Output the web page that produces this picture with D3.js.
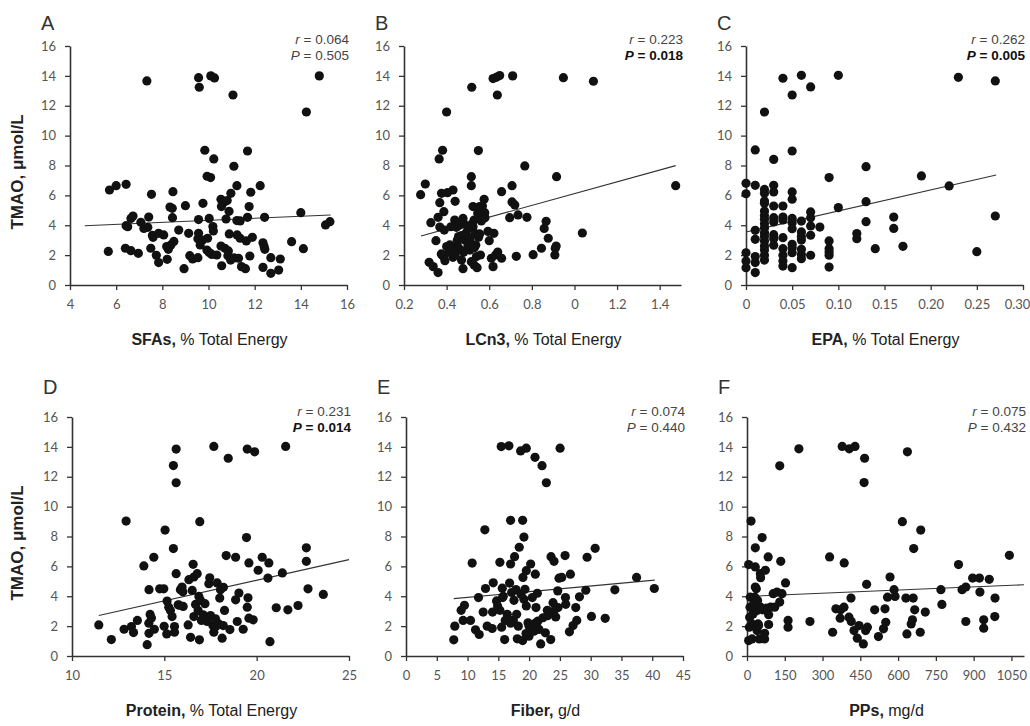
<!DOCTYPE html>
<html>
<head>
<meta charset="utf-8">
<script src="https://cdn.jsdelivr.net/npm/d3@7"></script>
<style>
  html, body { margin: 0; background: #fff; }
  .tick text { font-family: Lato, "Open Sans", sans-serif; font-size: 13px; fill: #555; }
  .domain { stroke: #333; stroke-width: 1.6; }
  .tick line { stroke: #333; stroke-width: 1.3; }
  .lbl { font-family: "Liberation Sans", Arial, sans-serif; fill: #222; }
</style>
</head>
<body>
<svg id="fig" width="1030" height="726"></svg>
<script>
// TMAO (umol/L) vs dietary intake, one [x, y] pair per subject
var sfaPts = [[7.33,13.66],[9.57,13.88],[9.6,13.24],[10.1,14.0],[10.26,13.86],[11.06,12.72],[14.8,14.0],[14.24,11.58],[9.84,9.02],[10.23,8.44],[11.69,8.97],[11.1,7.95],[9.94,7.28],[10.09,7.19],[5.71,6.36],[6.0,6.65],[6.43,6.74],[7.53,6.07],[8.46,6.25],[9.76,5.47],[9.0,5.31],[8.33,5.22],[8.43,5.13],[10.54,5.74],[10.67,5.56],[10.81,5.65],[10.97,6.14],[11.23,6.65],[11.83,6.21],[12.24,6.65],[11.76,5.25],[10.56,5.25],[10.89,4.93],[14.0,4.84],[7.41,4.55],[6.73,4.62],[6.64,4.46],[8.44,4.51],[9.57,4.38],[10.03,4.46],[10.76,4.42],[11.23,4.31],[11.37,4.29],[11.69,4.53],[12.43,4.53],[6.43,3.97],[6.5,3.9],[7.07,4.2],[7.2,3.79],[7.37,3.86],[7.57,3.33],[7.6,3.19],[7.84,3.46],[8.06,3.35],[8.71,3.68],[9.14,3.46],[9.57,3.46],[9.54,3.1],[9.64,2.68],[9.74,3.01],[9.96,3.13],[10.19,3.91],[10.21,3.62],[10.9,3.42],[11.24,3.35],[11.37,3.13],[11.9,3.19],[11.64,2.95],[12.36,2.83],[12.41,2.57],[12.44,2.39],[13.6,2.9],[14.11,2.43],[5.66,2.25],[6.4,2.46],[6.64,2.3],[6.96,2.12],[7.5,2.46],[7.74,1.99],[7.84,1.5],[8.21,1.72],[8.26,2.39],[8.37,2.68],[8.5,2.92],[8.19,2.57],[8.94,1.09],[9.19,1.96],[9.31,1.74],[9.54,1.83],[9.93,2.34],[10.03,2.17],[10.14,2.05],[10.36,2.01],[10.54,2.61],[10.71,2.46],[10.86,2.28],[10.57,1.29],[10.84,1.96],[10.96,1.67],[11.11,1.81],[11.3,1.79],[11.43,1.23],[11.6,1.09],[11.79,1.94],[12.36,1.18],[12.7,1.83],[12.7,0.78],[13.11,1.74],[13.04,1.0],[15.07,4.02],[15.26,4.24]];

var lcn3Pts = [[0.278,6.05],[0.30,6.76],[0.326,4.17],[0.318,1.52],[0.337,1.23],[0.36,0.83],[0.35,2.97],[0.36,4.53],[0.368,3.88],[0.368,5.51],[0.376,6.14],[0.365,8.44],[0.381,9.02],[0.4,11.58],[0.387,4.91],[0.389,3.68],[0.375,2.08],[0.386,1.9],[0.392,1.63],[0.4,2.57],[0.404,6.18],[0.43,6.36],[0.44,5.6],[0.415,2.68],[0.423,2.3],[0.43,1.85],[0.438,4.35],[0.446,3.86],[0.45,2.68],[0.456,3.24],[0.462,2.39],[0.47,1.67],[0.477,4.46],[0.48,4.13],[0.477,1.09],[0.485,3.01],[0.49,3.46],[0.5,2.61],[0.509,2.34],[0.505,2.86],[0.516,6.65],[0.516,7.25],[0.518,13.24],[0.524,5.25],[0.524,3.9],[0.529,4.35],[0.532,3.46],[0.537,2.68],[0.516,1.56],[0.529,1.34],[0.543,1.16],[0.54,1.9],[0.546,4.8],[0.549,9.0],[0.555,5.25],[0.555,4.58],[0.563,4.29],[0.563,4.91],[0.568,5.29],[0.576,5.74],[0.555,3.42],[0.559,2.01],[0.579,4.84],[0.594,3.59],[0.6,2.97],[0.61,1.79],[0.618,1.23],[0.622,3.46],[0.63,2.01],[0.64,2.21],[0.658,1.79],[0.618,13.82],[0.633,13.9],[0.649,14.02],[0.638,12.72],[0.658,6.25],[0.71,14.0],[0.707,6.65],[0.707,5.56],[0.72,5.36],[0.696,4.51],[0.735,4.69],[0.777,4.53],[0.727,1.92],[0.767,7.97],[0.806,2.03],[0.845,2.46],[0.858,3.79],[0.867,4.26],[0.877,3.13],[0.916,7.25],[0.91,2.46],[0.908,2.01],[0.914,2.61],[0.948,13.88],[1.037,3.48],[1.089,13.64],[1.475,6.65],[0.45,3.0],[0.47,3.3],[0.5,3.8],[0.52,4.1],[0.44,2.0],[0.48,2.2],[0.53,2.5],[0.55,3.2],[0.58,4.5],[0.42,3.9],[0.46,4.0],[0.51,3.1],[0.38,2.0],[0.41,2.2]];

var epaPts = [[0,6.11],[0,6.81],[0,2.16],[0,1.6],[0,1.16],[0.01,9.04],[0.01,6.67],[0.01,3.66],[0.01,3.06],[0.01,1.9],[0.01,1.5],[0.01,0.83],[0.02,11.58],[0.02,6.4],[0.02,6.14],[0.02,5.62],[0.02,5.47],[0.02,4.95],[0.02,4.66],[0.02,4.4],[0.02,4.1],[0.02,3.82],[0.02,3.5],[0.02,3.24],[0.02,2.95],[0.02,2.61],[0.02,2.34],[0.02,1.99],[0.02,1.67],[0.03,8.41],[0.03,6.67],[0.03,6.23],[0.03,5.29],[0.03,4.51],[0.03,4.22],[0.03,3.37],[0.03,3.1],[0.03,2.66],[0.04,13.84],[0.04,5.29],[0.04,4.55],[0.04,4.35],[0.04,3.17],[0.04,2.43],[0.04,1.99],[0.04,1.6],[0.04,1.27],[0.05,12.72],[0.05,8.97],[0.05,6.23],[0.05,5.74],[0.05,4.46],[0.05,4.17],[0.05,3.77],[0.05,2.72],[0.05,2.5],[0.05,2.16],[0.05,1.16],[0.06,14.04],[0.06,4.28],[0.06,3.55],[0.06,3.24],[0.06,3.01],[0.06,2.39],[0.06,2.05],[0.06,1.76],[0.07,13.26],[0.07,4.89],[0.07,4.51],[0.07,3.95],[0.07,3.33],[0.07,1.99],[0.08,3.88],[0.09,7.19],[0.09,2.95],[0.09,2.43],[0.09,2.21],[0.09,1.99],[0.09,1.2],[0.10,14.04],[0.10,5.18],[0.12,3.44],[0.12,3.1],[0.13,7.92],[0.13,5.58],[0.13,4.24],[0.14,2.43],[0.16,4.55],[0.16,3.79],[0.17,2.59],[0.19,7.3],[0.22,6.63],[0.23,13.9],[0.25,2.23],[0.27,13.66],[0.27,4.62]];

var proteinPts = [[11.45,2.08],[12.13,1.1],[12.82,1.79],[12.93,9.03],[13.22,1.97],[13.33,1.57],[13.54,2.38],[13.89,6.03],[14.07,0.76],[14.17,4.44],[14.16,2.2],[14.23,2.78],[14.3,2.55],[14.17,1.52],[14.43,6.61],[14.46,1.79],[14.75,4.5],[14.97,4.5],[14.99,1.99],[15.04,8.43],[15.13,1.48],[15.15,3.68],[15.24,3.27],[15.33,3.05],[15.42,2.64],[15.49,12.75],[15.49,7.19],[15.55,1.97],[15.55,1.59],[15.64,13.85],[15.64,11.6],[15.64,5.51],[15.87,4.44],[15.96,4.62],[15.75,3.43],[16.02,3.32],[16.29,2.08],[16.42,1.25],[16.33,5.11],[16.56,6.14],[16.6,5.29],[16.51,4.39],[16.6,2.64],[16.69,3.45],[16.78,5.51],[16.87,3.99],[16.83,3.05],[16.9,1.08],[16.92,8.99],[16.96,3.72],[17.01,2.38],[17.1,2.76],[17.32,2.31],[17.41,4.84],[17.46,5.24],[17.5,2.71],[17.63,2.04],[17.68,14.03],[17.68,1.59],[17.77,2.49],[17.86,4.89],[17.95,2.15],[18.0,3.88],[18.04,4.44],[18.13,1.19],[18.19,2.04],[18.26,3.05],[18.35,6.72],[18.46,13.24],[18.55,1.77],[18.86,6.61],[18.86,3.76],[18.95,2.31],[19.04,4.21],[19.27,1.79],[19.45,7.93],[19.49,13.85],[19.58,6.23],[19.53,3.9],[19.49,3.27],[19.58,2.53],[19.81,2.42],[19.89,13.67],[20.08,5.74],[20.3,6.61],[20.66,6.23],[20.61,5.22],[20.72,0.96],[21.06,3.23],[21.39,5.56],[21.57,14.03],[21.69,3.09],[22.24,3.38],[22.69,7.24],[22.69,6.34],[22.78,4.5],[23.61,4.12],[16.0,4.3],[17.2,3.5],[17.8,2.0],[18.2,4.6],[15.8,3.4]];

var fiberPts = [[7.76,1.08],[7.93,2.0],[8.96,3.06],[9.5,3.39],[9.28,2.38],[10.48,2.38],[10.75,6.22],[11.29,1.75],[11.78,3.91],[11.89,1.44],[12.54,2.94],[12.81,8.45],[12.92,4.52],[13.19,2.0],[14.06,2.94],[14.17,4.9],[14.0,1.84],[14.71,3.69],[14.88,3.35],[15.25,6.27],[15.25,3.06],[15.47,14.02],[15.64,4.54],[15.69,3.91],[15.53,1.93],[16.02,1.1],[16.12,2.38],[16.45,2.79],[16.72,14.07],[16.83,4.88],[16.99,6.16],[16.99,9.08],[17.16,4.25],[17.43,2.38],[17.54,3.73],[17.64,6.65],[17.86,4.45],[17.97,2.79],[18.08,1.15],[18.24,2.0],[18.4,7.28],[18.62,13.73],[18.68,4.13],[18.95,1.03],[18.95,9.08],[19.0,5.26],[19.16,7.96],[19.16,3.8],[19.33,4.47],[19.54,13.91],[19.54,5.71],[19.54,3.35],[19.82,2.22],[19.98,1.33],[20.25,6.16],[20.52,3.91],[20.52,2.0],[20.79,1.66],[20.96,13.3],[21.01,5.48],[21.12,3.24],[21.34,4.2],[21.44,2.34],[21.61,1.78],[21.88,0.81],[22.1,12.74],[22.26,2.56],[22.64,1.55],[22.8,11.6],[22.96,3.06],[23.51,1.1],[23.56,6.65],[24.05,6.34],[23.89,3.57],[24.32,2.61],[24.65,4.36],[24.86,5.21],[25.03,13.91],[24.7,3.24],[25.3,5.26],[25.84,6.72],[25.9,3.91],[25.95,3.46],[26.55,1.62],[26.71,5.48],[27.14,2.04],[27.58,3.24],[27.74,2.38],[28.18,3.96],[29.21,4.4],[29.42,6.61],[30.13,2.65],[30.73,7.21],[32.36,2.52],[33.93,4.43],[37.46,5.26],[40.34,4.52],[20.0,2.0],[20.5,1.7],[21.0,2.2],[19.5,1.5],[16.5,2.5],[17.0,2.2],[24.0,3.0],[23.0,2.7],[15.8,4.0]];

var ppPts = [[6.6,6.12],[6.6,1.03],[9.3,1.93],[10.6,2.6],[12,3.27],[13,3.94],[16,9.03],[20,1.14],[20,2.15],[24,2.82],[27,3.5],[31,3.94],[33,7.24],[33,5.96],[33,4.62],[37,4.5],[40,1.7],[40,3.05],[42,3.72],[44,2.15],[46,2.04],[49,1.14],[53,5.51],[54,5.24],[54,3.27],[60,7.93],[62,3.09],[70,1.14],[70,1.52],[73,5.74],[78,3.2],[84,6.63],[86,2.11],[86,2.76],[94,3.27],[104,4.17],[110,3.27],[119,4.28],[130,12.73],[130,3.61],[134,6.34],[139,4.17],[153,4.89],[163,2.38],[163,1.93],[206,13.87],[250,2.31],[328,6.63],[340,1.59],[353,3.16],[370,2.53],[372,3.09],[378,14.03],[386,6.23],[385,3.27],[406,13.87],[413,3.88],[405,2.6],[414,2.31],[429,14.03],[425,1.7],[438,1.19],[445,2.04],[462,0.81],[467,13.24],[465,11.61],[471,1.7],[478,1.93],[475,4.8],[507,3.09],[522,1.3],[542,1.82],[548,3.16],[551,2.26],[558,3.94],[568,5.29],[584,4.44],[588,3.99],[617,8.99],[631,3.88],[635,1.48],[637,13.67],[652,2.15],[657,2.42],[660,3.88],[662,7.19],[666,3.09],[690,8.43],[688,1.59],[708,2.94],[770,4.44],[774,3.45],[840,6.12],[854,4.44],[869,4.62],[869,2.31],[896,5.22],[923,5.22],[925,4.28],[940,2.42],[940,1.86],[962,5.13],[985,3.88],[984,2.64],[1042,6.74]];

// regression lines: [x0, y0, x1, y1]
var sfaFit = [4.64, 3.97, 15.29, 4.69];
var lcn3Fit = [0.28, 3.28, 1.475, 7.99];
var epaFit = [0, 3.55, 0.271, 7.36];
var proteinFit = [11.45, 2.71, 25, 6.45];
var fiberFit = [7.76, 3.84, 40.4, 5.08];
var ppFit = [0, 3.99, 1100, 4.77];

// tick values and labels
var yTicks = [0, 2, 4, 6, 8, 10, 12, 14, 16];
var sfaTicks = [4, 6, 8, 10, 12, 14, 16];
var lcn3Ticks = [0.2, 0.4, 0.6, 0.8, 1.0, 1.2, 1.4];
var lcn3Labels = ['0.2', '0.4', '0.6', '0.8', '0', '1.2', '1.4'];
var epaTicks = [0, 0.05, 0.10, 0.15, 0.20, 0.25, 0.30];
var epaLabels = ['0', '0.05', '0.10', '0.15', '0.20', '0.25', '0.30'];
var proteinTicks = [10, 15, 20, 25];
var fiberTicks = [0, 5, 10, 15, 20, 25, 30, 35, 40, 45];
var ppTicks = [0, 150, 300, 450, 600, 750, 900, 1050];

var stats = [
  ['0.064', '0.505', false],
  ['0.223', '0.018', true],
  ['0.262', '0.005', true],
  ['0.231', '0.014', true],
  ['0.074', '0.440', false],
  ['0.075', '0.432', false]
];

var W = 277, H = 239;

var panels = [
  {letter: 'A', left: 70, top: 46, dom: [4, 16], ticks: sfaTicks, pts: sfaPts, fit: sfaFit, tb: 'SFAs,', tr: ' % Total Energy', ylab: true},
  {letter: 'B', left: 404, top: 46, dom: [0.2, 1.5], ticks: lcn3Ticks, labels: lcn3Labels, pts: lcn3Pts, fit: lcn3Fit, tb: 'LCn3,', tr: ' % Total Energy'},
  {letter: 'C', left: 746, top: 46, dom: [0, 0.3], ticks: epaTicks, labels: epaLabels, pts: epaPts, fit: epaFit, tb: 'EPA,', tr: ' % Total Energy'},
  {letter: 'D', left: 72, top: 417, dom: [10, 25], ticks: proteinTicks, pts: proteinPts, fit: proteinFit, tb: 'Protein,', tr: ' % Total Energy', ylab: true},
  {letter: 'E', left: 406, top: 417, dom: [0, 45], ticks: fiberTicks, pts: fiberPts, fit: fiberFit, tb: 'Fiber,', tr: ' g/d'},
  {letter: 'F', left: 747, top: 417, dom: [0, 1100], ticks: ppTicks, pts: ppPts, fit: ppFit, tb: 'PPs,', tr: ' mg/d'}
];

var svg = d3.select('#fig');

panels.forEach(function(p, i) {
  var g = svg.append('g')
      .attr('transform', 'translate(' + p.left + ',' + p.top + ')');

  var x = d3.scaleLinear().domain(p.dom).range([0, W]);
  var y = d3.scaleLinear().domain([0, 16]).range([H, 0]);

  var xAxis = d3.axisBottom(x)
      .tickValues(p.ticks)
      .tickSize(5)
      .tickSizeOuter(0)
      .tickPadding(10);
  if (p.labels) {
    xAxis.tickFormat(function(d, k) { return p.labels[k]; });
  } else {
    xAxis.tickFormat(d3.format('d'));
  }

  var yAxis = d3.axisLeft(y)
      .tickValues(yTicks)
      .tickSize(5)
      .tickSizeOuter(0)
      .tickPadding(9);

  var gx = g.append('g').attr('transform', 'translate(0,' + H + ')').call(xAxis);
  g.append('g').call(yAxis);

  // the 0.30 label sits on the page edge
  if (p.letter == 'C') {
    gx.selectAll('.tick text')
        .filter(function(d, k) { return k == p.ticks.length - 1; })
        .attr('dx', '-6');
  }

  // fit line
  g.append('line')
      .attr('x1', x(p.fit[0])).attr('y1', y(p.fit[1]))
      .attr('x2', x(p.fit[2])).attr('y2', y(p.fit[3]))
      .attr('stroke', '#333')
      .attr('stroke-width', 1.1);

  g.selectAll('.dot')
      .data(p.pts)
      .enter()
      .append('circle')
      .attr('class', 'dot')
      .attr('cx', function(d) { return x(d[0]); })
      .attr('cy', function(d) { return y(d[1]); })
      .attr('r', 4.6)
      .attr('fill', '#111');

  // panel letter
  g.append('text')
      .attr('class', 'lbl')
      .attr('x', -29)
      .attr('y', p.top < 100 ? -16 : -23)
      .style('font-size', '20px')
      .style('fill', '#333')
      .text(p.letter);

  // r and P
  var s = stats[i];
  var t1 = g.append('text')
      .attr('class', 'lbl')
      .attr('x', W + 2)
      .attr('y', p.top < 100 ? -2 : -1)
      .attr('text-anchor', 'end')
      .style('font-size', '13.5px')
      .style('fill', '#444');
  t1.append('tspan').style('font-style', 'italic').text('r');
  t1.append('tspan').text(' = ' + s[0]);

  var t2 = g.append('text')
      .attr('class', 'lbl')
      .attr('x', W + 2)
      .attr('y', p.top < 100 ? 14 : 15)
      .attr('text-anchor', 'end')
      .style('font-size', '13.5px')
      .style('fill', s[2] ? '#111' : '#444')
      .style('font-weight', s[2] ? 'bold' : 'normal');
  t2.append('tspan').style('font-style', 'italic').text('P');
  t2.append('tspan').text(' = ' + s[1]);

  // x title
  var xt = g.append('text')
      .attr('class', 'lbl')
      .attr('x', W / 2 + 1)
      .attr('y', H + 60)
      .attr('text-anchor', 'middle')
      .style('font-size', '16px');
  xt.append('tspan').style('font-weight', 'bold').text(p.tb);
  xt.append('tspan').text(p.tr);

  if (p.ylab) {
    g.append('text')
        .attr('class', 'lbl')
        .attr('transform', 'translate(' + (23 - p.left) + ',126) rotate(-90)')
        .attr('text-anchor', 'middle')
        .style('font-size', '17px')
        .style('font-weight', 'bold')
        .text('TMAO, μmol/L');
  }
});
</script>
</body>
</html>
